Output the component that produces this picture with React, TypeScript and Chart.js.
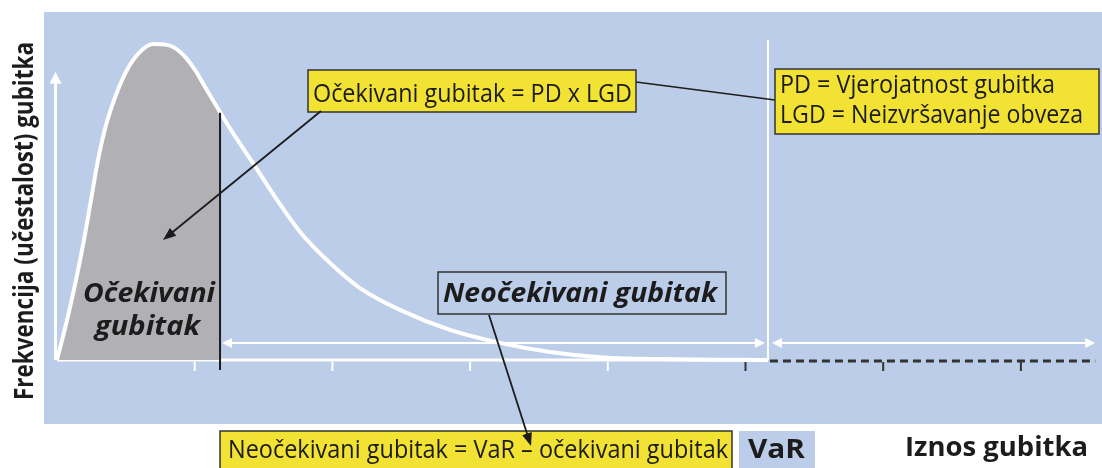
import React, { useEffect, useRef } from "react";
import { Chart, registerables } from "chart.js";

Chart.register(...registerables);

// ---- Data (loss amount in tick units, frequency in % of peak) ----
const lossX = [0, 0.073, 0.138, 0.196, 0.247, 0.298, 0.356, 0.428, 0.508, 0.603, 0.697, 0.799, 0.893, 1.002, 1.075, 1.162, 1.278, 1.423, 1.598, 1.765, 1.983, 2.2, 2.491, 2.854, 3.217, 3.58, 3.943, 4.524, 5.163];
const frequency = [0, 12.6, 25.2, 37.9, 50.5, 63.1, 74.1, 83.6, 91.5, 97.2, 99.7, 99.4, 97.2, 91.5, 86.1, 79.8, 71.6, 62.1, 50.5, 40.4, 30.6, 22.7, 15.8, 9.5, 5.4, 2.5, 0.9, 0.2, 0];
const expectedLossEnd = 1.184;
const expectedLossEdgeFreq = 78;
const varLevel = 5.163;
const axisEnd = 7.54;
const tickValues = [1, 2, 3, 4, 5, 6, 7];
const darkTickFrom = 5;
const yAxisTop = 90.9;
const varLineTop = 101;
const spanArrowLevel = 5.36;

const X_MIN = -0.414;
const X_MAX = 7.589;
const Y_MIN = -34.07;
const Y_MAX = 113.56;

const FONT = '"Open Sans", "Noto Sans", "DejaVu Sans", sans-serif';
const PANEL = "#bccde9";
const YELLOW = "#f1e234";
const GREY = "#b1b1b5";
const DARK = "#1c1c1c";

function fitText(ctx: CanvasRenderingContext2D, text: string, x: number, y: number, width: number, font: string, color = DARK) {
  ctx.save();
  ctx.font = font;
  const w = ctx.measureText(text).width;
  ctx.translate(x, y);
  ctx.scale(width / w, 1);
  ctx.fillStyle = color;
  ctx.textAlign = "left";
  ctx.textBaseline = "alphabetic";
  ctx.fillText(text, 0, 0);
  ctx.restore();
}

function box(ctx: CanvasRenderingContext2D, x1: number, y1: number, x2: number, y2: number, fill: string, stroke: string | null) {
  ctx.save();
  ctx.fillStyle = fill;
  ctx.fillRect(x1, y1, x2 - x1, y2 - y1);
  if (stroke) {
    ctx.strokeStyle = stroke;
    ctx.lineWidth = 1.5;
    ctx.strokeRect(x1, y1, x2 - x1, y2 - y1);
  }
  ctx.restore();
}

function arrowHead(ctx: CanvasRenderingContext2D, fx: number, fy: number, tx: number, ty: number, len: number, half: number, color: string) {
  const a = Math.atan2(ty - fy, tx - fx);
  ctx.save();
  ctx.fillStyle = color;
  ctx.beginPath();
  ctx.moveTo(tx, ty);
  ctx.lineTo(tx - len * Math.cos(a) + half * Math.sin(a), ty - len * Math.sin(a) - half * Math.cos(a));
  ctx.lineTo(tx - len * Math.cos(a) - half * Math.sin(a), ty - len * Math.sin(a) + half * Math.cos(a));
  ctx.closePath();
  ctx.fill();
  ctx.restore();
}

function line(ctx: CanvasRenderingContext2D, x1: number, y1: number, x2: number, y2: number, color: string, lw: number, dash: number[] = []) {
  ctx.save();
  ctx.strokeStyle = color;
  ctx.lineWidth = lw;
  ctx.setLineDash(dash);
  ctx.beginPath();
  ctx.moveTo(x1, y1);
  ctx.lineTo(x2, y2);
  ctx.stroke();
  ctx.restore();
}

function arrow(ctx: CanvasRenderingContext2D, x1: number, y1: number, x2: number, y2: number, color: string, lw: number, len: number, half: number) {
  const a = Math.atan2(y2 - y1, x2 - x1);
  line(ctx, x1, y1, x2 - (len - 2) * Math.cos(a), y2 - (len - 2) * Math.sin(a), color, lw);
  arrowHead(ctx, x1, y1, x2, y2, len, half, color);
}

const diagramPlugin = {
  id: "diagram",
  beforeDraw(chart: any) {
    const ctx = chart.ctx as CanvasRenderingContext2D;
    ctx.save();
    ctx.fillStyle = "#ffffff";
    ctx.fillRect(0, 0, chart.width, chart.height);
    ctx.fillStyle = PANEL;
    ctx.fillRect(44, 12, chart.width - 44, 412);
    ctx.restore();
  },
  beforeDatasetsDraw(chart: any) {
    const ctx = chart.ctx as CanvasRenderingContext2D;
    const xs = chart.scales.x;
    const ys = chart.scales.y;
    const px = (v: number) => xs.getPixelForValue(v);
    const py = (v: number) => ys.getPixelForValue(v);
    const y0 = py(0);

    // VaR vertical line
    line(ctx, px(varLevel), py(varLineTop), px(varLevel), y0, "#ffffff", 2);
    // baseline
    line(ctx, px(0), y0, px(varLevel), y0, "#ffffff", 3);
    // dashed continuation
    line(ctx, px(varLevel) + 2, y0 + 1, px(axisEnd), y0 + 1, "#333333", 3, [8, 5]);
    // y axis with arrow
    line(ctx, px(0) - 1.5, y0, px(0) - 1.5, py(yAxisTop) + 8, "#ffffff", 3);
    arrowHead(ctx, px(0) - 1.5, y0, px(0) - 1.5, py(yAxisTop), 12, 6, "#ffffff");
    // ticks
    tickValues.forEach((t) => {
      const c = t >= darkTickFrom ? "#333333" : "#ffffff";
      line(ctx, px(t), y0 + 2, px(t), y0 + 11, c, 2);
    });
    // span arrows
    const ay = py(spanArrowLevel);
    const l1 = px(expectedLossEnd) + 2;
    const r1 = px(varLevel) - 3;
    line(ctx, l1 + 8, ay, r1 - 8, ay, "#ffffff", 2);
    arrowHead(ctx, r1, ay, l1, ay, 10, 5, "#ffffff");
    arrowHead(ctx, l1, ay, r1, ay, 10, 5, "#ffffff");
    const l2 = px(varLevel) + 4;
    const r2 = px(axisEnd);
    line(ctx, l2 + 8, ay, r2 - 8, ay, "#ffffff", 2);
    arrowHead(ctx, r2, ay, l2, ay, 10, 5, "#ffffff");
    arrowHead(ctx, l2, ay, r2, ay, 10, 5, "#ffffff");
  },
  afterDatasetsDraw(chart: any) {
    const ctx = chart.ctx as CanvasRenderingContext2D;
    const xs = chart.scales.x;
    const ys = chart.scales.y;
    const px = (v: number) => xs.getPixelForValue(v);
    const py = (v: number) => ys.getPixelForValue(v);
    const y0 = py(0);

    // expected loss boundary
    line(ctx, px(expectedLossEnd), py(expectedLossEdgeFreq), px(expectedLossEnd), y0 + 10, DARK, 2);

    const reg = `26px ${FONT}`;
    const bold = `bold 26px ${FONT}`;
    const boldIt = `italic bold 26px ${FONT}`;

    // Expected loss label inside grey area
    fitText(ctx, "Očekivani", 83, 302, 132, boldIt);
    fitText(ctx, "gubitak", 95, 335, 105, boldIt);

    // connector between the two definition boxes
    line(ctx, 636, 82, 775, 100, DARK, 1.6);

    // Box 1
    box(ctx, 308, 70, 636, 112, YELLOW, "#333333");
    fitText(ctx, "Očekivani gubitak = PD x LGD", 313, 102, 319, reg);

    // Box 2
    box(ctx, 775, 69, 1099, 134, YELLOW, "#333333");
    fitText(ctx, "PD = Vjerojatnost gubitka", 780, 93, 275, reg);
    fitText(ctx, "LGD = Neizvršavanje obveza", 780, 123, 303, reg);

    // Unexpected loss box
    box(ctx, 438, 272, 726, 314, PANEL, "#333333");
    fitText(ctx, "Neočekivani gubitak", 443, 302, 274, boldIt);

    // Bottom formula box
    box(ctx, 220, 431, 732, 472, YELLOW, "#333333");
    fitText(ctx, "Neočekivani gubitak = VaR – očekivani gubitak", 228, 458, 500, reg);

    // VaR box
    box(ctx, 739, 431, 815, 472, PANEL, null);
    fitText(ctx, "VaR", 748, 458, 57, bold);

    // arrows (on top of boxes)
    arrow(ctx, 321, 111, 163, 240, DARK, 1.8, 13, 5);
    arrow(ctx, 489, 315, 531, 446, DARK, 1.8, 13, 5);

    // x-axis title
    fitText(ctx, "Iznos gubitka", 905, 456, 183, bold);

    // y-axis title
    ctx.save();
    ctx.translate(33, 400);
    ctx.rotate(-Math.PI / 2);
    fitText(ctx, "Frekvencija (učestalost) gubitka", 0, 0, 358, bold);
    ctx.restore();
  },
};

export default function App() {
  const ref = useRef<HTMLCanvasElement | null>(null);

  useEffect(() => {
    if (!ref.current) return;
    const curve = lossX.map((x, i) => ({ x, y: frequency[i] }));
    const area = lossX
      .map((x, i) => ({ x, y: frequency[i] }))
      .filter((p) => p.x < expectedLossEnd);
    area.push({ x: expectedLossEnd, y: expectedLossEdgeFreq });

    const chart = new Chart(ref.current, {
      type: "line",
      data: {
        datasets: [
          {
            label: "Frekvencija",
            data: curve,
            borderColor: "#ffffff",
            borderWidth: 4,
            pointRadius: 0,
            cubicInterpolationMode: "monotone",
            fill: false,
            order: 0,
          },
          {
            label: "Očekivani gubitak",
            data: area,
            borderWidth: 0,
            borderColor: "rgba(0,0,0,0)",
            backgroundColor: GREY,
            pointRadius: 0,
            cubicInterpolationMode: "monotone",
            fill: "origin",
            order: 1,
          },
        ],
      },
      options: {
        animation: false,
        responsive: false,
        maintainAspectRatio: false,
        layout: { padding: 0 },
        events: [],
        plugins: {
          legend: { display: false },
          tooltip: { enabled: false },
          title: { display: false },
        },
        scales: {
          x: { type: "linear", min: X_MIN, max: X_MAX, display: false },
          y: { type: "linear", min: Y_MIN, max: Y_MAX, display: false },
        },
      },
      plugins: [diagramPlugin],
    });
    return () => chart.destroy();
  }, []);

  return (
    <div style={{ position: "absolute", left: 0, top: 0, width: 1102, height: 468 }}>
      <canvas ref={ref} width={1102} height={468} style={{ display: "block", width: 1102, height: 468 }} />
    </div>
  );
}
